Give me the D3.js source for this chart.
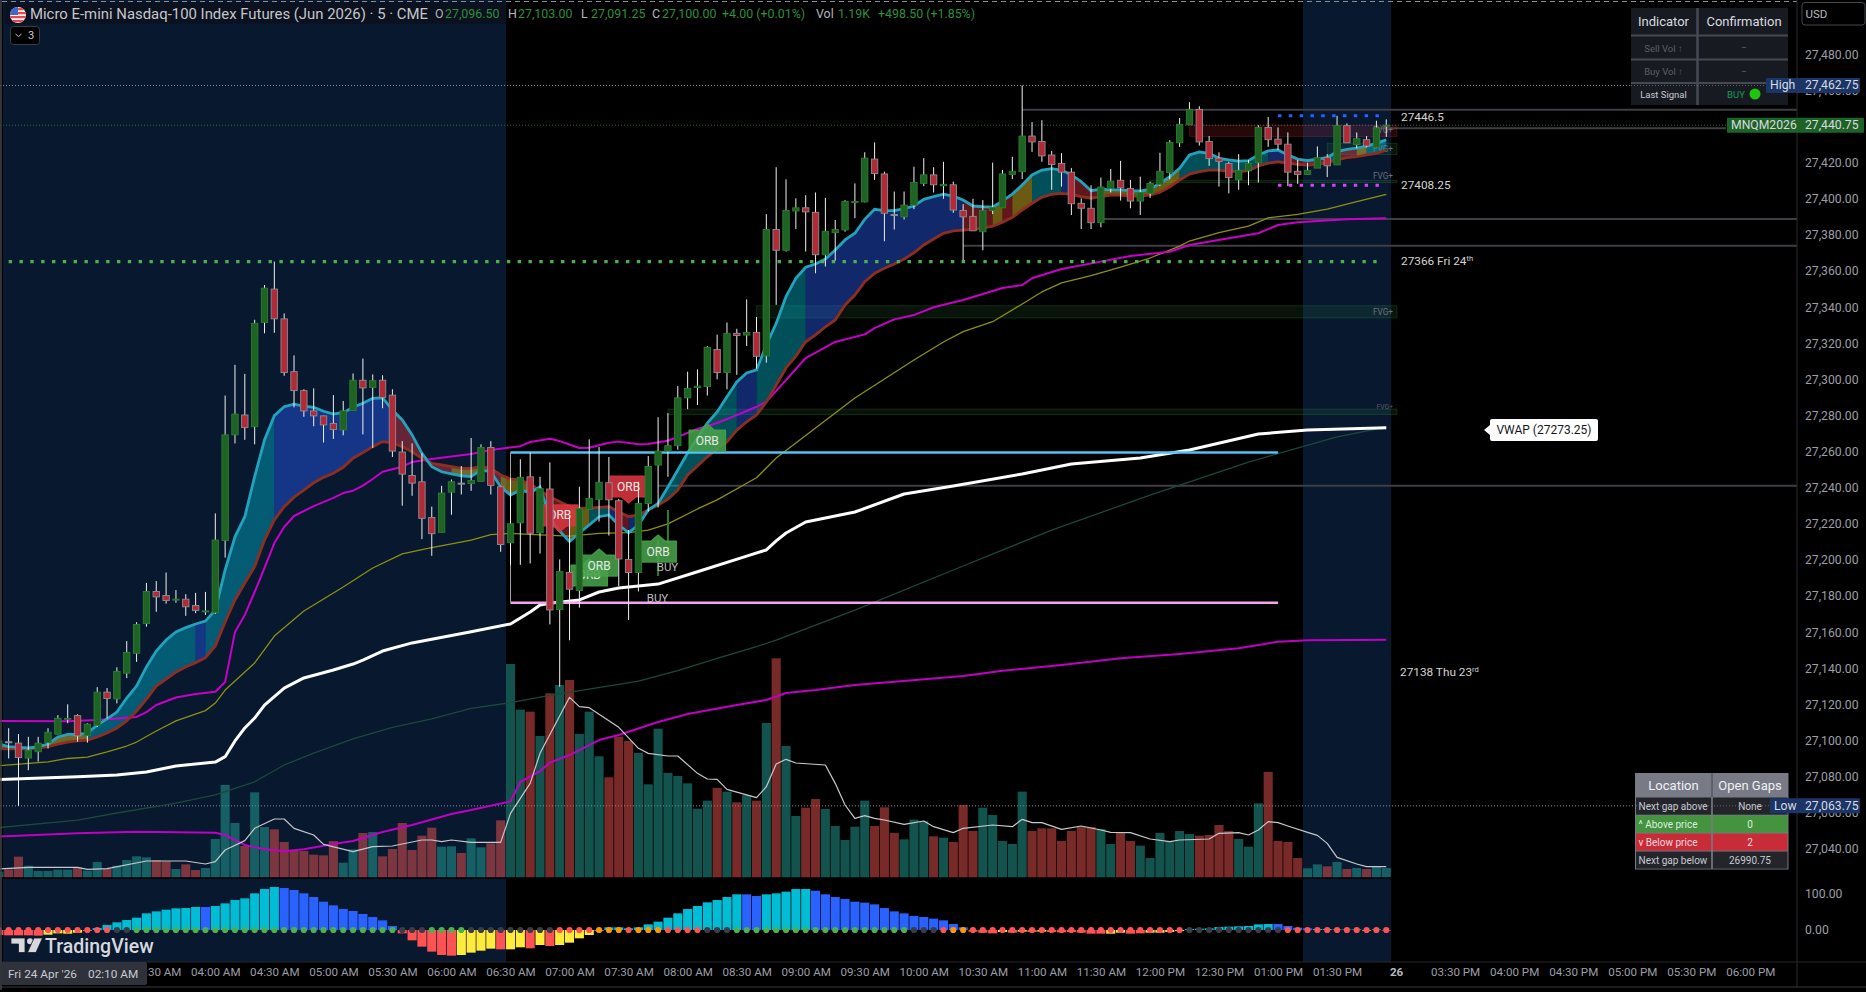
<!DOCTYPE html>
<html>
<head>
<meta charset="utf-8">
<style>
  html, body { margin: 0; padding: 0; background: #000; overflow: hidden; }
  svg { display: block; }
  text { font-family: Roboto, "Noto Sans", sans-serif; }
</style>
<script src="https://cdn.jsdelivr.net/npm/d3@7"></script>
</head>
<body>
<div id="chart"></div>
<script>
// bar numbers count 5 minute bars from the 06:30 AM session open, the first visible bar is -52
var firstBar = -52;

var opens = [27095.75,27099.25,27098.5,27090.25,27093.75,27098.75,27103.5,27112,27113.75,27102.75,
27108.25,27126.75,27123,27137.25,27148.25,27164.75,27182.5,27180.25,27178,27178.25,
27174.75,27171.5,27170.75,27210.75,27269.25,27280.25,27273.75,27331.5,27350,27333.5,
27304.25,27293.75,27282.5,27279.75,27275.5,27272,27282.75,27299.5,27295.5,27299.5,
27291.25,27259.75,27246.75,27243.25,27223.5,27215.25,27237.5,27242.5,27242.25,27243.5,
27262.25,27240.5,27209.5,27220.5,27246,27215,27239.25,27172.5,27193,27183,
27228,27233.5,27242.75,27232.75,27200.25,27193,27231.25,27252.5,27260.25,27263.25,
27289.75,27295.5,27296,27316.5,27303.75,27325.5,27324.5,27326,27313,27383,
27371.5,27393.25,27395,27392.5,27369,27381.25,27382.75,27398,27398.25,27422,
27413.75,27391.25,27390,27396.5,27408.5,27413.25,27407.25,27407.75,27393.5,27390.25,
27381.75,27393.5,27395,27413.5,27415,27434.75,27431.75,27424.25,27419.5,27414.75,
27397.5,27394.75,27386.75,27405.75,27410.25,27405.75,27398.75,27403,27408,27414.5,
27431,27441,27449.5,27431.75,27422.5,27419.5,27410.5,27415.5,27420,27439.5,
27433,27430.25,27415.25,27413.5,27417,27423,27418.75,27440.5,27430,27432.75,
27428.5,27440.5];

var closes = [27099.75,27099.25,27090.5,27094.5,27098.5,27104.5,27112.25,27112.25,27102.5,27109,
27126.75,27123.25,27138.25,27148.75,27164.25,27182.5,27179.5,27177.5,27178.25,27174,
27172,27171.75,27211,27269.25,27280.75,27273.25,27331,27350.5,27333.5,27303.75,
27293.75,27282.5,27279.75,27274.75,27272.25,27282.5,27299.5,27295.25,27299.25,27290,
27260.25,27247.5,27242.5,27223,27214.5,27237,27243.25,27242.5,27244,27262.25,
27241.25,27208.5,27220,27245.75,27214.75,27239.5,27172.25,27193.5,27183.75,27228.5,
27234,27243,27233.25,27200.5,27193,27231.25,27251.75,27260.25,27263.25,27289.75,
27295,27296.25,27317.75,27303.75,27325.5,27324.25,27326,27312.75,27383,27371.5,
27393.5,27395,27392.75,27369,27382,27383,27398.5,27398.5,27422.5,27414,
27392,27391.25,27396.5,27409,27413.25,27407.75,27408,27393.75,27390,27382.25,
27393.5,27395.25,27413.75,27415.25,27434.75,27431.5,27423.75,27419,27414.75,27397.25,
27394.75,27386.75,27406.5,27409.75,27406,27398.75,27403.5,27408.5,27415.25,27431.25,
27441.25,27449.5,27431.5,27422.25,27420.75,27411.75,27415.75,27419.5,27439.5,27432.75,
27430.25,27414.75,27413.5,27415.75,27422.75,27418.25,27440.5,27431,27433.25,27429.25,
27439.25,27440.75];

var highs = [27105.75,27106.75,27103.5,27102,27102,27106.75,27114,27120,27114.5,27109.5,
27129.5,27129,27140.5,27155,27165.5,27187.25,27188.25,27193,27183.25,27181,
27181.75,27182.25,27225.75,27291,27308,27303,27333,27352.25,27365.25,27336.5,
27313.25,27294.5,27295,27280,27291.25,27288,27303.25,27311.5,27302.75,27302.25,
27294.5,27265.75,27264.5,27259,27229.5,27241,27244.5,27252,27267.5,27264,
27265.75,27241,27245.25,27255.75,27259.5,27246,27254,27200.25,27224,27240.5,
27266.75,27262.5,27257,27233.75,27216.5,27243.25,27257.5,27279,27281.25,27296.25,
27304.25,27305.5,27318.5,27324.75,27331.5,27328,27344.25,27334.5,27391.5,27417.5,
27410.75,27400.25,27402,27403.5,27400.5,27388.25,27399.25,27408.5,27425.75,27431.25,
27415,27404,27404,27417.75,27422.5,27417.5,27420.5,27409.5,27397,27400,
27399.25,27420,27416,27423.25,27462.75,27442.5,27443.5,27426.5,27425.25,27417,
27400.25,27407.5,27411.75,27416.5,27421,27410.5,27412.25,27409.5,27425.5,27432.5,
27444.75,27453.5,27451.25,27434.75,27425.75,27420.5,27424.75,27421.5,27440.75,27445.25,
27439.5,27436.75,27421.5,27420,27429,27424.75,27446,27441.75,27436.75,27434.75,
27443.25,27444];

var lows = [27092,27090,27063.75,27083.5,27088.25,27095.5,27103.25,27109.5,27099.25,27098.75,
27107.5,27112.25,27120.5,27134.5,27143.5,27163,27171.25,27175.75,27176.25,27169,
27170.5,27169.5,27170,27201.25,27264.5,27266.5,27264,27325.5,27325.75,27302,
27284.5,27279.25,27274,27265,27267,27269,27282.75,27269.5,27262,27284,
27257,27230,27235.5,27211.5,27202.25,27215.25,27225,27236.25,27238.25,27243.5,
27236.25,27204.5,27197.25,27197.25,27198,27203.5,27164.25,27129.75,27155.5,27173.5,
27228,27221.25,27213.5,27185.5,27166.75,27182.5,27226.75,27229,27246,27261,
27283.5,27285.75,27291,27300,27294.5,27302.5,27318.5,27306,27309.25,27341.25,
27370.75,27383.25,27370.75,27358.75,27362.5,27365.75,27381.75,27389.25,27398,27410.5,
27376.5,27383,27388.5,27394.25,27407,27403.5,27400,27392.25,27366,27382.25,
27371.5,27391.5,27395,27411,27411,27426,27420.5,27405,27406.75,27391,
27383.25,27383.25,27384.25,27403.5,27399,27394.75,27391,27400.5,27407,27410.75,
27428.75,27441,27429.5,27418.25,27406.75,27403,27405,27407.5,27409,27428.75,
27427,27407,27408.25,27413.25,27417,27412,27418.75,27431,27428,27428.5,
27428.25,27434.25];

var volumes = [1190,1640,4030,2330,1320,1320,1580,1580,1950,1390,
3020,1760,2330,3400,4100,3910,3400,3150,1700,2580,
1510,1890,7370,17580,10400,6050,16190,9640,9200,6800,
5170,5100,4410,4280,6990,2900,5420,8510,8690,4100,
5480,10400,5290,8000,9510,5920,5990,4730,7500,5800,
6550,10900,40450,31820,31440,26840,34900,36480,37420,27220,
31440,23000,19030,26710,25890,23630,17700,28220,19850,19280,
17890,13100,14620,17010,16320,14300,15690,14620,29300,41520,
24950,11720,13290,14930,13040,9830,7180,9700,14620,9830,
13360,8510,7310,11030,10770,7880,7620,6800,13800,8880,
13290,11910,6990,6430,16320,8880,9390,9390,6990,8880,
9640,9640,9260,6430,8510,6990,6110,3780,8510,6990,
8880,8320,8000,8130,10020,8880,7370,5920,14110,20030,
6990,6800,3780,1830,2580,2210,3020,1700,1890,1700,
2210,1890];

var emaFast = [27098,27096.6,27096.1,27095.8,27096.4,27098,27101.9,27103.4,27103.3,27104.1,
27108.5,27111.9,27115.7,27123.5,27130.1,27140.7,27149.5,27155.6,27160.1,27162.5,
27164.5,27166.1,27172.2,27194.4,27212.8,27223.9,27246.1,27266.4,27279.9,27284.8,
27286.3,27285.2,27284.5,27282.3,27280.8,27281.5,27284.5,27286.7,27289.5,27289.8,
27283,27277.5,27269.2,27259,27251.6,27248.8,27247.6,27246.6,27246.1,27249.8,
27248.8,27240.5,27235.9,27238.7,27237.2,27240.5,27223.2,27216,27210.1,27214.9,
27219.3,27223.9,27224.9,27219.3,27215.1,27219.3,27227.6,27231.3,27240.4,27249.8,
27259.2,27267.5,27275.8,27281.9,27290.4,27298.5,27303.5,27305.2,27319,27331,
27345.8,27356,27362.1,27363.9,27366.6,27371.6,27377.2,27380.9,27388.6,27394.2,
27393.4,27393.4,27394.5,27396,27399.7,27401.2,27402.6,27401.5,27399.3,27396,
27395.6,27395.4,27398.8,27402.6,27407.6,27413.2,27415.9,27416.7,27415.9,27413.2,
27409.5,27404.5,27405.3,27404.9,27404.9,27404.5,27404.3,27405.3,27408.6,27412.2,
27416.9,27424.3,27425.9,27425.2,27422.4,27421.5,27420.9,27421.1,27424.3,27426.5,
27427,27424.3,27422,27421.1,27421.9,27422.8,27426.1,27427.4,27428,27429.2,
27430.7,27432.6];

var emaSlow = [27095.3,27095.3,27095.3,27095.4,27095.8,27096.5,27098,27099.1,27099.7,27100.2,
27101.9,27104.1,27106.9,27110.8,27116.3,27122.9,27130.1,27134,27137.9,27140.7,
27143.1,27145.8,27152.3,27165.6,27177.8,27187.2,27196.2,27211,27222.1,27229.5,
27234.7,27238.7,27242.7,27245.7,27248,27251.3,27256.3,27259.4,27262.7,27265.5,
27264.9,27262.7,27259.9,27256.3,27253.5,27252.6,27251.6,27250.7,27250.7,27251.6,
27250.7,27247,27244.8,27244.2,27242,27238.3,27235,27232.2,27229.5,27228.6,
27228.6,27229.1,27229.5,27226.7,27223.9,27224.9,27227.6,27230.4,27233.6,27238.7,
27247,27252,27257.1,27261.4,27265.5,27271.9,27276.5,27280.2,27287.4,27296.9,
27306.3,27312.9,27320.8,27324.6,27329.1,27332.9,27341.2,27346.7,27354.1,27358.7,
27361.5,27363.9,27366.6,27370.1,27374.4,27377.7,27380.9,27382.2,27382.7,27383.1,
27383.7,27384.9,27387,27389.7,27393.8,27397.5,27400.8,27402.5,27403,27402.5,
27401.2,27400.3,27401.2,27402.1,27402.1,27401.5,27401.5,27402.1,27403.6,27406.7,
27410.4,27413.7,27415,27415.9,27415.9,27415.4,27415,27415.6,27418.2,27419.7,
27420.5,27419.7,27419.1,27418.7,27419.1,27420,27421.5,27422.8,27423.3,27424.3,
27425.2,27427];

// which colour sits between the two averages, from bar to bar
var emaRunBars = [-52,-43,-32,-31,-24,-12,-6,-3,-1,3,6,8,10,11,12,13,23,25,30,46,49,50,51,53,56,57,60,68,77,79,83,84,86,87,89];
var emaRunKinds = ["olive","teal","blue","teal","blue","red","olive","red","olive","red","olive","teal","blue","red","blue","teal","blue","teal","blue","red","olive","red","olive","teal","blue","red","olive","teal","blue","red","teal","red","olive","teal"];

var maBars = [-52,-45,-42,-38,-37,-36,-34,-32,-30,-29,-28,-27,-26,-25,-24,-23,-22,-20,-18,-17,-16,-15,-14,-13,-11,-10,-8,-4,-2,1,2,4,5,7,8,10,11,13,14,16,17,19,21,23,25,26,28,30,33,36,37,39,41,43,46,50,52,53,56,60,63,67,69,73,76,78,80,85,89];
var maVals = [27110.8,27110.6,27111.3,27113,27115.7,27119.6,27123.8,27125.7,27127,27132.4,27160,27169.5,27182.2,27195.5,27209.3,27218.2,27224.3,27229.8,27234.3,27237,27238.3,27241.1,27244.8,27248.8,27251.6,27254.2,27255.9,27258.6,27260.9,27263,27265.3,27267.1,27265.8,27262,27262.1,27264.9,27265.5,27264,27264.2,27266,27268.1,27272.5,27275.8,27280.2,27284.8,27287.6,27299.6,27311.8,27320.7,27324.9,27328.4,27333.2,27335.6,27339.9,27343.9,27350.6,27352.2,27356,27361.1,27365.2,27368.3,27370.7,27374.4,27378.1,27380.9,27385.5,27387,27388.6,27389.2];

var oliveBars = [-52,-47,-45,-43,-41,-39,-38,-36,-34,-31,-30,-29,-26,-24,-21,-17,-14,-11,-9,-8,-4,-2,0,3,6,9,12,14,16,19,21,25,27,31,35,41,44,46,49,52,54,56,59,62,65,68,69,72,75,77,80,83,86,89];
var oliveVals = [27086,27088.1,27090,27090.8,27093.6,27096.9,27099.1,27105.2,27110.8,27116.5,27120.7,27127.9,27142.9,27157.8,27171.7,27185,27195.5,27203.3,27205.7,27206.8,27211,27214,27214.7,27213.8,27213.2,27214.7,27215.1,27216.5,27219.9,27228.2,27233.2,27245.5,27256.4,27273,27289.7,27310.7,27320.7,27326.4,27331.9,27341.7,27348.4,27353.4,27357.4,27362.2,27367.2,27373.8,27376.6,27381.2,27384.9,27389.4,27391.4,27394.3,27398.4,27402.5];

var vwapBars = [-52,-44,-40,-37,-34,-31,-30,-29,-28,-27,-26,-25,-23,-21,-18,-16,-15,-13,-10,-4,0,2,3,4,7,9,11,15,19,24,26,27,28,30,35,40,45,52,57,64,69,76,81,89];
var vwapVals = [27078.4,27079.9,27080.8,27082.5,27085.8,27087.5,27088,27091,27099.7,27106.9,27112.4,27119.6,27129,27134.6,27139,27142.3,27144.5,27149.5,27154,27160.2,27164.5,27171.1,27175,27176,27177.8,27182.2,27184.4,27186.6,27193.4,27202.1,27205.5,27210.5,27214.9,27221,27226.5,27236.5,27240.9,27247.6,27253.1,27256.4,27260.9,27269.7,27271.9,27273.25];

var slowMaBars = [-52,-44,-40,-34,-30,-26,-23,-20,-16,-12,-8,-4,0,4,11,13,17,21,25,27,35,45,55,65,75,84,89];
var slowMaVals = [27051.7,27055.9,27059.8,27065.3,27069.8,27077.1,27086.4,27093,27100.8,27107.2,27111.9,27117.8,27120.9,27124.9,27131.1,27132.9,27138.6,27145.5,27151.9,27155.6,27172.2,27194.4,27216.5,27235.9,27254.2,27268.1,27273.6];

var lowerMaBars = [-52,-44,-38,-30,-29,-27,-25,-23,-21,-18,-16,-13,-10,-6,-4,0,1,3,4,6,9,11,15,18,23,26,28,31,35,39,46,50,56,62,68,74,78,81,89];
var lowerMaVals = [27046.7,27048.6,27049.4,27048.9,27047.6,27042.1,27039.7,27038.6,27039.7,27042.6,27044.3,27049.3,27053.2,27059.2,27061.5,27066.2,27077,27083,27087.7,27091.9,27100.2,27103,27110.2,27114.6,27119.6,27122.4,27126.3,27127.9,27130.7,27132.5,27135.7,27138.6,27141.8,27145.5,27147.9,27151,27154.7,27155.5,27155.8];

var volMaBars = [-52,-49,-44,-43,-41,-37,-33,-31,-30,-29,-27,-26,-24,-23,-22,-20,-19,-16,-14,-12,-9,-8,-7,-6,-4,-1,0,2,3,6,7,8,11,13,14,16,17,19,20,21,22,25,26,27,28,29,32,33,34,35,36,37,38,40,42,43,45,46,49,51,52,53,54,56,58,60,61,63,65,67,68,71,72,74,75,76,77,78,79,81,82,83,84,86,87,89];
var volMaVals = [1700,2020,2020,1640,1760,3210,3210,2650,3090,5290,7060,9390,11150,11150,9390,8130,6360,4980,5920,6050,7180,7180,6870,7180,6740,6740,12220,17890,23560,34150,32380,32190,28480,24510,23560,23060,23060,19780,18710,18650,16760,15180,17260,21550,22430,21740,21360,17890,13800,11280,11780,11280,10960,10140,10770,9700,8570,9390,10020,9700,11090,10460,10460,9200,9830,9070,8630,8570,7370,6870,7180,7370,8440,8570,8130,9070,10650,10460,9830,8630,8060,6550,3910,2650,2140,2140];

var oscVals = [-13.6,-14.5,-14.5,-14.5,-15.4,-12.7,-9.1,-10,-7.3,-2.7,
5.4,13.6,20.9,27.2,33.6,45.4,50.8,55.4,59,59.9,
62.7,62.7,65.4,72.6,81.7,86.3,99.9,111.7,117.1,114.4,
109,99.9,89.9,77.2,67.2,57.2,51.8,43.6,35.4,26.3,
10.9,-9.1,-28.1,-45.4,-59,-68.1,-69.9,-68.1,-61.7,-56.3,
-50.8,-52.7,-52.7,-47.2,-49.9,-40.9,-43.6,-40.9,-34.5,-22.7,
-13.6,-1.8,7.3,7.3,4.5,7.3,15.4,22.7,33.6,45.4,
57.2,65.4,75.4,81.7,89.9,97.2,97.2,92.6,97.2,99.9,
104.4,111.7,111.7,107.1,97.2,89.9,84.4,77.2,74.5,69.9,
59.9,50.8,45.4,38.1,35.4,30.9,26.3,16.3,7.3,-4.5,
-7.3,-9.1,-5.4,-7.3,-4.5,-5.4,-4.5,-5.4,-6.4,-5.4,
-7.3,-10,-10,-10,-7.3,-10,-9.1,-7.3,-7.3,-5.4,
-2.7,2.7,3.6,4.5,8.2,9.1,10,10.9,15.4,16.3,
16.3,10.9,6.4,4.5,2.7,2.7,0.9,1.8,1.8,-1.8,
1.8,-1.8];
var oscColorRuns = [["r",5],["y",4],["r",1],["c",11],["b",1],["c",7],["b",12],["r",6],["y",4],["r",1],["y",2],["r",1],["y",1],["r",1],["y",5],["c",14],["b",2],["c",5],["b",16],["r",3],["y",1],["r",1],["y",1],["r",1],["y",1],["r",6],["y",2],["r",2],["y",4],["c",9],["b",4],["c",2],["y",1],["c",2],["y",1],["c",1],["r",1]];
var oscDotRuns = [["r",12],["k",2],["n",27],["k",3],["n",4],["k",9],["r",4],["o",3],["r",1],["o",3],["r",4],["k",3],["n",18],["k",3],["r",1],["o",2],["r",22],["k",10],["r",11]];

var priceTicks = [27480,27460,27420,27400,27380,27360,27340,27320,27300,27280,27260,27240,27220,27200,27180,27160,27140,27120,27100,27080,27060,27040];
var oscTicks = [100,0];
var timeBars = [-36,-30,-24,-18,-12,-6,0,6,12,18,24,30,36,42,48,54,60,66,72,78,84,90,96,102,108,114,120,126];
var timeLabels = ["03:30 AM","04:00 AM","04:30 AM","05:00 AM","05:30 AM","06:00 AM","06:30 AM","07:00 AM","07:30 AM","08:00 AM","08:30 AM","09:00 AM","09:30 AM","10:00 AM","10:30 AM","11:00 AM","11:30 AM","12:00 PM","12:30 PM","01:00 PM","01:30 PM","26","03:30 PM","04:00 PM","04:30 PM","05:00 PM","05:30 PM","06:00 PM"];

var orbBars = [8,9,15,20,12,5];
var orbPrices = [27200.5,27206,27213.75,27275.25,27231.5,27215.5];
var orbSides = ["up","up","up","up","down","down"];

var grayLevels = [27449.25,27388.75,27374,27241];
var grayLevelBars = [52,60,46,15];
var fvgTops = [27340.75,27410.25,27430.75,27440.75,27283.5];
var fvgBottoms = [27334,27409,27424.5,27434.5,27280.5];
var fvgBars = [25,65,83,69,16];
var fvgKinds = ["up","up","up","down","up"];

// ---- sizes of the page
var W = 1866, H = 992;
var axisX = 1797, volBase = 878, timeTop = 962;

var x = d3.scaleLinear().domain([-52, 126]).range([-1.18, 1750.34]);
var y = d3.scaleLinear().domain([27480, 27040]).range([54.35, 848.75]);
var yVol = d3.scaleLinear().domain([0, 18900]).range([volBase, volBase - 100]);
var yOsc = d3.scaleLinear().domain([100, 0]).range([893.3, 930]);

var svg = d3.select("#chart").append("svg").attr("width", W).attr("height", H);

function txt(parent, s, px, py, size, fill, anchor, weight){
    return parent.append("text").attr("x", px).attr("y", py)
        .attr("font-size", size).attr("fill", fill)
        .attr("text-anchor", anchor || "start")
        .attr("font-weight", weight || 400)
        .attr("dominant-baseline", "central")
        .text(s);
}
function expand(runs){
    var out = [];
    runs.forEach(function(r){ for(var i=0;i<r[1];i++) out.push(r[0]); });
    return out;
}
function hline(price, b0, x1, color, width, dash){
    var l = svg.append("line").attr("x1", typeof b0 === "number" ? x(b0) : 0).attr("x2", x1)
        .attr("y1", y(price)).attr("y2", y(price))
        .attr("stroke", color).attr("stroke-width", width);
    if(dash) l.attr("stroke-dasharray", dash);
    return l;
}
var barIdx = d3.range(opens.length);
function barOf(i){ return i + firstBar; }

// session shading
svg.append("rect").attr("x", 3).attr("y", 0).attr("width", 503).attr("height", timeTop).attr("fill", "#07182f");
svg.append("rect").attr("x", 1303).attr("y", 0).attr("width", 88).attr("height", timeTop).attr("fill", "#07182f");

// top dashed and dotted price lines
svg.append("line").attr("x1", 2).attr("x2", axisX).attr("y1", 1.5).attr("y2", 1.5)
    .attr("stroke", "#8a8d96").attr("stroke-dasharray", "5 4");
hline(27462.75, null, axisX, "#8a8d96", 1, "1 2");
hline(27440.75, null, axisX, "#2e6b34", 1, "1 2");
hline(27063.75, null, axisX, "#8a8d96", 1, "1 2");

// flat session levels
grayLevels.forEach(function(p, i){ hline(p, grayLevelBars[i], axisX, "#3d3f45", 2); });
hline(27439, 88, 1726, "#3d3f45", 2);

// fair value gap boxes
fvgTops.forEach(function(t, i){
    var up = fvgKinds[i] === "up";
    var yt = y(t), yb = y(fvgBottoms[i]);
    svg.append("rect").attr("x", x(fvgBars[i])).attr("y", yt)
        .attr("width", 1397 - x(fvgBars[i])).attr("height", yb - yt)
        .attr("fill", up ? "rgba(76,175,80,0.11)" : "rgba(242,54,69,0.15)")
        .attr("stroke", up ? "rgba(76,175,80,0.2)" : "rgba(242,54,69,0.2)");
});
txt(svg, "FVG+", 1393, 311.5, 8.2, "#6e7076", "end");
txt(svg, "FVG+", 1393, 175.5, 8.2, "#6e7076", "end");
txt(svg, "FVG+", 1393, 148.5, 8.2, "#6e7076", "end");
txt(svg, "FVG+", 1393, 130, 8.2, "#6e7076", "end");
txt(svg, "FVG+", 1393, 407, 6.8, "#5a5c62", "end");

// volume bars
var barW = 9.1;
svg.append("g").selectAll("rect").data(barIdx).enter().append("rect")
    .attr("x", function(i){ return x(barOf(i)) - barW/2; })
    .attr("y", function(i){ return yVol(volumes[i]); })
    .attr("width", barW)
    .attr("height", function(i){ return volBase - yVol(volumes[i]); })
    .attr("fill", function(i){
        return closes[i] > opens[i] ? "rgba(38,166,154,0.5)" : "rgba(239,83,80,0.5)";
    });

// ema ribbon fill
var fillColor = { teal: "rgba(0,188,212,0.42)", blue: "rgba(41,98,255,0.42)", red: "rgba(242,54,69,0.4)", olive: "rgba(255,214,40,0.42)" };
var ribbon = d3.area()
    .x(function(i){ return x(barOf(i)); })
    .y0(function(i){ return y(emaSlow[i]); })
    .y1(function(i){ return y(emaFast[i]); });
emaRunKinds.forEach(function(kind, j){
    var run = d3.range(emaRunBars[j] - firstBar, emaRunBars[j+1] - firstBar + 1);
    svg.append("path").attr("d", ribbon(run)).attr("fill", fillColor[kind]);
});

function drawSparse(bars, vals, yScale, color, width){
    var line = d3.line()
        .x(function(d){ return x(d[0]); })
        .y(function(d){ return yScale(d[1]); });
    svg.append("path").attr("d", line(d3.zip(bars, vals)))
        .attr("fill", "none").attr("stroke", color).attr("stroke-width", width)
        .attr("stroke-linejoin", "round");
}
drawSparse(slowMaBars, slowMaVals, y, "#1d483c", 1.3);
drawSparse(lowerMaBars, lowerMaVals, y, "#c000c4", 2);
drawSparse(oliveBars, oliveVals, y, "#8f8f12", 1.3);
drawSparse(maBars, maVals, y, "#c800c8", 2);
drawSparse(vwapBars, vwapVals, y, "#ffffff", 3);
drawSparse(volMaBars, volMaVals, yVol, "#c6c8cc", 1.2);

// ema lines
var emaLine = function(arr){
    return d3.line().x(function(i){ return x(barOf(i)); }).y(function(i){ return y(arr[i]); })(barIdx);
};
svg.append("path").attr("d", emaLine(emaSlow)).attr("fill", "none").attr("stroke", "#8e2e22").attr("stroke-width", 2.8);
svg.append("path").attr("d", emaLine(emaFast)).attr("fill", "none").attr("stroke", "#22a3bb").attr("stroke-width", 2.8);

// opening range box
hline(27259.5, 0, x(78), "#4fc3f7", 2.6);
hline(27176.25, 0, x(78), "#f5a3ee", 2.6);
svg.append("line").attr("x1", x(0)).attr("x2", x(0)).attr("y1", y(27259.5)).attr("y2", y(27176.25))
    .attr("stroke", "#9a9ca2").attr("stroke-width", 1);

// thin buy signal stems
svg.append("line").attr("x1", x(16)).attr("x2", x(16)).attr("y1", 510).attr("y2", 543).attr("stroke", "#2e7d32").attr("stroke-width", 2);
svg.append("line").attr("x1", x(15)).attr("x2", x(15)).attr("y1", 540).attr("y2", 576).attr("stroke", "#2e7d32").attr("stroke-width", 2);

// ORB tags, they sit under the candles
orbBars.forEach(function(b, i){
    var cx = x(b), tip = y(orbPrices[i]), up = orbSides[i] === "up";
    var w = 36.5, h = 21, t = 6;
    var top = up ? tip + t : tip - t - h;
    var bot = top + h;
    var pts = up
        ? [[cx-w/2,top],[cx-7,top],[cx,tip],[cx+7,top],[cx+w/2,top],[cx+w/2,bot],[cx-w/2,bot]]
        : [[cx-w/2,top],[cx+w/2,top],[cx+w/2,bot],[cx+7,bot],[cx,tip],[cx-7,bot],[cx-w/2,bot]];
    svg.append("path").attr("d", d3.line()(pts) + "Z")
        .attr("fill", up ? "#47a24a" : "#d9363f").attr("fill-opacity", 0.88)
        .attr("stroke", up ? "#47a24a" : "#d9363f").attr("stroke-opacity", 0.88)
        .attr("stroke-width", 1.2).attr("stroke-linejoin", "round");
    txt(svg, "ORB", cx, (top + bot)/2, 12, "#e8e8e8", "middle");
});
txt(svg, "BUY", 667.5, 567, 11.5, "#bcbcbc", "middle");
txt(svg, "BUY", 657.5, 598, 11.5, "#bcbcbc", "middle");

// dotted levels
hline(27365.25, -51, 1383, "#4caf50", 3.2, "3.4 7.43");
hline(27446, 78, 1385, "#2962ff", 3.2, "3.4 7.43");
hline(27407.5, 78, 1385, "#e040fb", 3.2, "3.4 7.43");

// candles
var candles = svg.append("g");
candles.selectAll("line").data(barIdx).enter().append("line")
    .attr("x1", function(i){ return x(barOf(i)); })
    .attr("x2", function(i){ return x(barOf(i)); })
    .attr("y1", function(i){ return y(highs[i]); })
    .attr("y2", function(i){ return y(lows[i]); })
    .attr("stroke", "#f0f0f0").attr("stroke-width", 1);
candles.selectAll("rect").data(barIdx).enter().append("rect")
    .attr("x", function(i){ return x(barOf(i)) - 3.2; })
    .attr("y", function(i){ return y(Math.max(opens[i], closes[i])); })
    .attr("width", 6.4)
    .attr("height", function(i){ return Math.max(1, Math.abs(y(opens[i]) - y(closes[i]))); })
    .attr("fill", function(i){
        if(opens[i] === closes[i]) return "#8f9196";
        return closes[i] > opens[i] ? "#1e6323" : "#b22a36";
    })
    .attr("stroke", function(i){
        if(opens[i] === closes[i]) return "#8f9196";
        return closes[i] > opens[i] ? "#2e7d32" : "#8c8e93";
    })
    .attr("stroke-width", 0.9);

// pane separator and oscillator
svg.append("line").attr("x1", 0).attr("x2", axisX).attr("y1", volBase).attr("y2", volBase).attr("stroke", "#000").attr("stroke-width", 1.5);
var oscFill = { c: "#00bcd4", b: "#2962ff", r: "#ff5252", y: "#ffeb3b" };
var oscCol = expand(oscColorRuns);
svg.append("g").selectAll("rect").data(barIdx).enter().append("rect")
    .attr("x", function(i){ return x(barOf(i)) - barW/2; })
    .attr("y", function(i){ return Math.min(yOsc(oscVals[i]), yOsc(0)); })
    .attr("width", barW)
    .attr("height", function(i){ return Math.abs(yOsc(oscVals[i]) - yOsc(0)); })
    .attr("fill", function(i){ return oscFill[oscCol[i]]; });
var dotFill = { r: "#ff5252", k: "#3a3d48", n: "#4caf50", o: "#ff9800" };
var dotCol = expand(oscDotRuns);
svg.append("g").selectAll("circle").data(barIdx).enter().append("circle")
    .attr("cx", function(i){ return x(barOf(i)); })
    .attr("cy", yOsc(0))
    .attr("r", 3.1)
    .attr("fill", function(i){ return dotFill[dotCol[i]]; });

// text notes next to the last bar
txt(svg, "27446.5", 1401, 116.5, 11.8, "#d4d4d4");
txt(svg, "27408.25", 1401, 185, 11.8, "#d4d4d4");
var fri = txt(svg, "27366 Fri 24", 1401, 261, 11.8, "#d4d4d4");
fri.append("tspan").attr("dy", -3).attr("font-size", 7.5).text("th");
var thu = txt(svg, "27138 Thu 23", 1400, 672, 11.8, "#d4d4d4");
thu.append("tspan").attr("dy", -3).attr("font-size", 7.5).text("rd");

// vwap tag
svg.append("path").attr("d", "M1490,421q0,-2 2,-2H1596q2,0 2,2V439q0,2 -2,2H1492q-2,0 -2,-2V435L1484,430L1490,425Z").attr("fill", "#fff");
txt(svg, "VWAP (27273.25)", 1544, 430, 12, "#131722", "middle");

// axes
svg.append("line").attr("x1", axisX).attr("x2", axisX).attr("y1", 0).attr("y2", 987).attr("stroke", "#2a2b30");
svg.append("line").attr("x1", 0).attr("x2", W).attr("y1", timeTop).attr("y2", timeTop).attr("stroke", "#26272b");
svg.append("line").attr("x1", 0).attr("x2", W).attr("y1", 987).attr("y2", 987).attr("stroke", "#3a3b40");
svg.append("line").attr("x1", 1).attr("x2", 1).attr("y1", 0).attr("y2", 990).attr("stroke", "#45464b").attr("stroke-width", 1.5);

var priceAxis = d3.axisRight(y).tickValues(priceTicks).tickFormat(d3.format(",.2f")).tickSize(0).tickPadding(8);
var oscAxis = d3.axisRight(yOsc).tickValues(oscTicks).tickFormat(d3.format(".2f")).tickSize(0).tickPadding(8);
var timeAxis = d3.axisBottom(x).tickValues(timeBars)
    .tickFormat(function(b){ return timeLabels[timeBars.indexOf(b)]; }).tickSize(0).tickPadding(0);
var priceG = svg.append("g").attr("transform", "translate(" + axisX + ",0)").call(priceAxis);
var oscG = svg.append("g").attr("transform", "translate(" + axisX + ",0)").call(oscAxis);
var timeG = svg.append("g").attr("transform", "translate(0,968)").call(timeAxis);
[priceG, oscG, timeG].forEach(function(g){
    g.select(".domain").remove();
    g.selectAll("text").attr("fill", "#9c9ea6").attr("font-size", 12.2).attr("font-family", "Roboto, 'Noto Sans', sans-serif");
});
timeG.selectAll("text").attr("font-size", 11.6);
timeG.selectAll("text").filter(function(){ return d3.select(this).text() === "26"; })
    .attr("font-weight", 700).attr("fill", "#b8bac0");

// tooltip on the time axis
svg.append("rect").attr("x", 1).attr("y", 962).attr("width", 146).attr("height", 23).attr("rx", 2).attr("fill", "#2f323b");
txt(svg, "Fri 24 Apr '26", 8, 974, 11.8, "#c8cad0");
txt(svg, "02:10 AM", 88, 974, 11.8, "#c8cad0");

svg.append("rect").attr("x", 1802).attr("y", 2.5).attr("width", 63).attr("height", 22.5).attr("rx", 3)
    .attr("fill", "#000").attr("stroke", "#45464b");
txt(svg, "USD", 1805.5, 14, 11.5, "#b8bac0");

// indicator table
var tableRows = [8, 35.5, 59.5, 83, 105];
svg.append("rect").attr("x", 1631).attr("y", 8).attr("width", 157).attr("height", 97).attr("fill", "#181a21");
tableRows.slice(1, 4).forEach(function(r){
    svg.append("line").attr("x1", 1631).attr("x2", 1788).attr("y1", r).attr("y2", r).attr("stroke", "#474955").attr("stroke-width", 2);
});
svg.append("line").attr("x1", 1697.5).attr("x2", 1697.5).attr("y1", 8).attr("y2", 105).attr("stroke", "#474955").attr("stroke-width", 2.5);
txt(svg, "Indicator", 1663.5, 21.5, 13, "#d8dae0", "middle");
txt(svg, "Confirmation", 1744, 21.5, 13, "#d8dae0", "middle");
txt(svg, "Sell Vol \u2191", 1663.5, 48, 9.5, "#5c5e66", "middle");
txt(svg, "\u2013", 1744, 48, 9, "#5c5e66", "middle");
txt(svg, "Buy Vol \u2191", 1663.5, 71.5, 9.5, "#5c5e66", "middle");
txt(svg, "\u2013", 1744, 71.5, 9, "#5c5e66", "middle");
txt(svg, "Last Signal", 1663.5, 94.5, 9.5, "#c8cad0", "middle");
txt(svg, "BUY", 1736, 94.5, 9.5, "#0c9a5c", "middle");
svg.append("circle").attr("cx", 1755).attr("cy", 94).attr("r", 5.5).attr("fill", "#1fc40f");
hline(27462.75, null, 1766, "rgba(138,141,150,0.6)", 1, "1 2").attr("x1", 1631);

// open gaps table
var gapRows = [
    ["Next gap above", "None", "#23252b", "#c8cad0"],
    ["^ Above price", "0", "#43933f", "#dfeede"],
    ["v Below price", "2", "#c72c38", "#f4dcde"],
    ["Next gap below", "26990.75", "#23252b", "#c8cad0"]
];
svg.append("rect").attr("x", 1635).attr("y", 773).attr("width", 153.5).attr("height", 96.5).attr("fill", "#787b86");
txt(svg, "Location", 1673.5, 785.5, 13, "#f0f0f4", "middle");
txt(svg, "Open Gaps", 1750, 785.5, 13, "#f0f0f4", "middle");
svg.append("line").attr("x1", 1712).attr("x2", 1712).attr("y1", 773).attr("y2", 797).attr("stroke", "#55575f").attr("stroke-width", 1.5);
gapRows.forEach(function(r, i){
    var ry = 797.5 + i * 18;
    svg.append("rect").attr("x", 1636).attr("y", ry).attr("width", 75.2).attr("height", 17.2).attr("fill", r[2]);
    svg.append("rect").attr("x", 1712.8).attr("y", ry).attr("width", 74.7).attr("height", 17.2).attr("fill", r[2]);
    txt(svg, r[0], 1638.5, ry + 8.6, 10, r[3]);
    txt(svg, r[1], 1750, ry + 8.6, 10, r[3], "middle");
});
// low line runs over the table
hline(27063.75, null, 1770, "rgba(138,141,150,0.6)", 1, "1 2").attr("x1", 1636);

// price labels on the axis, they go over both tables
function axisTag(x0, x1, price, bg, name, value){
    var yc = y(price);
    svg.append("rect").attr("x", x0).attr("y", yc - 7.5).attr("width", x1 - x0).attr("height", 15).attr("rx", 1).attr("fill", bg);
    txt(svg, name, x0 + 4, yc, 12.2, "#d8dae0");
    txt(svg, value, 1805, yc, 12.2, "#d8dae0");
}
axisTag(1766, 1860, 27462.75, "#1a3566", "High", "27,462.75");
axisTag(1727, 1864, 27440.75, "#1e6326", "MNQM2026", "27,440.75");
axisTag(1770, 1860, 27063.75, "#1a3566", "Low", "27,063.75");

// header strip
svg.append("rect").attr("x", 5).attr("y", 2.5).attr("width", 501).attr("height", 21).attr("fill", "#0b111e");
var flag = svg.append("g");
flag.append("clipPath").attr("id", "flagClip").append("circle").attr("cx", 18).attr("cy", 15).attr("r", 8);
var flagG = flag.append("g").attr("clip-path", "url(#flagClip)");
flagG.append("rect").attr("x", 10).attr("y", 7).attr("width", 16).attr("height", 16).attr("fill", "#f0f0f0");
d3.range(4).forEach(function(i){
    flagG.append("rect").attr("x", 10).attr("y", 8 + i*4).attr("width", 16).attr("height", 2.2).attr("fill", "#e5484d");
});
flagG.append("rect").attr("x", 10).attr("y", 7).attr("width", 8).attr("height", 8).attr("fill", "#3f66c9");

txt(svg, "Micro E-mini Nasdaq-100 Index Futures (Jun 2026) \u00b7 5 \u00b7 CME", 30, 13.5, 14.9, "#c4c6cc");
var headLabels = ["O","H","L","C"], headVals = ["27,096.50","27,103.00","27,091.25","27,100.00"], headX = [435, 508, 581, 652];
headLabels.forEach(function(l, i){
    txt(svg, l, headX[i], 13.5, 12.4, "#b4b6bc");
    txt(svg, headVals[i], headX[i] + 10, 13.5, 12.4, "#2f8f3c");
});
txt(svg, "+4.00 (+0.01%)", 722, 13.5, 12.4, "#2f8f3c");
txt(svg, "Vol", 816, 13.5, 12.4, "#b4b6bc");
txt(svg, "1.19K", 838, 13.5, 12.4, "#2f8f3c");
txt(svg, "+498.50 (+1.85%)", 878, 13.5, 12.4, "#2f8f3c");

// collapse button
svg.append("rect").attr("x", 10.5).attr("y", 26.5).attr("width", 29).attr("height", 18).attr("rx", 3).attr("fill", "#000").attr("stroke", "#3c3e44");
svg.append("path").attr("d", "M15.5,34l3,2.5l3,-2.5").attr("fill", "none").attr("stroke", "#c8cad0");
txt(svg, "3", 28, 35.5, 11, "#c8cad0");

// watermark
var logo = svg.append("g").attr("transform", "translate(11,938)");
logo.append("path").attr("d", "M0,0H14V14.5H7.5V6H0Z").attr("fill", "#d6d8de").attr("stroke", "#1c1c1c").attr("stroke-width", 0.8);
logo.append("circle").attr("cx", 19).attr("cy", 3.2).attr("r", 3).attr("fill", "#d6d8de");
logo.append("path").attr("d", "M23,0H31.5L25,14.5H16.5Z").attr("fill", "#d6d8de").attr("stroke", "#1c1c1c").attr("stroke-width", 0.8);
txt(svg, "TradingView", 45, 946, 19.5, "#d6d8de", "start", 500);
</script>
</body>
</html>
